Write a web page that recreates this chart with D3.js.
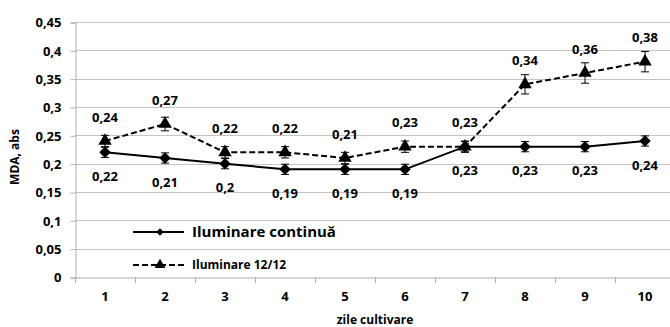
<!DOCTYPE html>
<html>
<head>
<meta charset="utf-8">
<script src="https://cdn.jsdelivr.net/npm/d3@7"></script>
<style>
  body { margin: 0; background: #fff; }
  text { font-family: "Open Sans", sans-serif; font-weight: bold; fill: #000; }
</style>
</head>
<body>
<div id="chart"></div>
<script>
var days = [1, 2, 3, 4, 5, 6, 7, 8, 9, 10];
var continua = [0.22, 0.21, 0.20, 0.19, 0.19, 0.19, 0.23, 0.23, 0.23, 0.24];
var continuaErr = [0.009, 0.009, 0.009, 0.009, 0.009, 0.009, 0.009, 0.009, 0.009, 0.009];
var ciclu = [0.24, 0.27, 0.22, 0.22, 0.21, 0.23, 0.23, 0.34, 0.36, 0.38];
var cicluErr = [0.01, 0.012, 0.01, 0.01, 0.01, 0.01, 0.01, 0.017, 0.018, 0.018];
var yTicks = [0, 0.05, 0.1, 0.15, 0.2, 0.25, 0.3, 0.35, 0.4, 0.45];
var seriesNames = ["Iluminare continuă", "Iluminare 12/12"];

var W = 670, H = 327;
var plotLeft = 75, plotRight = 675, plotTop = 22, plotBottom = 277;

var svg = d3.select("#chart").append("svg")
    .attr("width", W)
    .attr("height", H);

var x = d3.scaleBand().domain(days).range([plotLeft, plotRight]);
var y = d3.scaleLinear().domain([0, 0.45]).range([plotBottom, plotTop]);
var cx = function(d){ return x(d) + x.bandwidth() / 2; };
var fmt = function(v){ return String(+v.toFixed(2)).replace(".", ","); };

//gridlines
svg.append("g").selectAll("line")
    .data(yTicks.slice(1))
    .enter().append("line")
    .attr("x1", plotLeft).attr("x2", W)
    .attr("y1", function(d){ return Math.round(y(d)) + 0.5; })
    .attr("y2", function(d){ return Math.round(y(d)) + 0.5; })
    .attr("stroke", "#c4c4c4")
    .attr("stroke-width", 1);

//y axis
var yAxis = svg.append("g")
    .attr("transform", "translate(" + (plotLeft + 0.5) + ",0.5)")
    .call(d3.axisLeft(y).tickValues(yTicks).tickSize(5).tickPadding(9).tickFormat(fmt));
yAxis.select(".domain").attr("stroke", "#b0b0b0");
yAxis.selectAll(".tick line").attr("stroke", "#b0b0b0");
yAxis.selectAll(".tick text").style("font-size", "13px").attr("fill", "#000");

//x axis
var xAxis = svg.append("g")
    .attr("transform", "translate(0," + (Math.round(plotBottom) + 0.5) + ")")
    .call(d3.axisBottom(x).tickSize(0).tickPadding(14));
xAxis.select(".domain").attr("stroke", "#b0b0b0");
xAxis.selectAll(".tick text").style("font-size", "13px").attr("fill", "#000");
svg.append("g").selectAll("line")
    .data(days.concat([11]))
    .enter().append("line")
    .attr("x1", function(d, i){ return plotLeft + i * x.bandwidth() + 0.5; })
    .attr("x2", function(d, i){ return plotLeft + i * x.bandwidth() + 0.5; })
    .attr("y1", plotBottom).attr("y2", plotBottom + 6)
    .attr("stroke", "#b0b0b0");

//axis titles
svg.append("text")
    .attr("transform", "translate(19,157) rotate(-90)")
    .attr("text-anchor", "middle")
    .style("font-size", "12px")
    .text("MDA, abs");
svg.append("text")
    .attr("x", 375).attr("y", 324)
    .attr("text-anchor", "middle")
    .style("font-size", "12px")
    .text("zile cultivare");

var diamond = d3.symbol().type(d3.symbolDiamond2).size(85);
var triangle = d3.symbol().type(d3.symbolTriangle).size(78);

function drawSeries(vals, errs, dash, sym, labelDy){
    var line = d3.line()
        .x(function(d, i){ return cx(days[i]); })
        .y(function(d){ return y(d); });
    svg.append("path")
        .datum(vals)
        .attr("d", line)
        .attr("fill", "none")
        .attr("stroke", "#000")
        .attr("stroke-width", 2)
        .attr("stroke-dasharray", dash);

    var g = svg.append("g");
    vals.forEach(function(v, i){
        var px = cx(days[i]);
        var y1 = y(v + errs[i]), y2 = y(v - errs[i]);
        g.append("line").attr("x1", px).attr("x2", px).attr("y1", y1).attr("y2", y2)
            .attr("stroke", "#000").attr("stroke-width", 1);
        g.append("line").attr("x1", px - 4).attr("x2", px + 4).attr("y1", y1).attr("y2", y1)
            .attr("stroke", "#000").attr("stroke-width", 1);
        g.append("line").attr("x1", px - 4).attr("x2", px + 4).attr("y1", y2).attr("y2", y2)
            .attr("stroke", "#000").attr("stroke-width", 1);
        g.append("path")
            .attr("d", sym)
            .attr("transform", "translate(" + px + "," + y(v) + ")")
            .attr("fill", "#000");
        g.append("text")
            .attr("x", px).attr("y", y(v) + labelDy)
            .attr("text-anchor", "middle")
            .attr("dy", "0.35em")
            .style("font-size", "13px")
            .text(fmt(v));
    });
}

drawSeries(continua, continuaErr, null, diamond, 24);
drawSeries(ciclu, cicluErr, "6,3", triangle, -24);

//legend
var legend = [
    {name: seriesNames[0], dash: null, sym: d3.symbol().type(d3.symbolDiamond2).size(35), y: 232, size: "15px"},
    {name: seriesNames[1], dash: "6,3", sym: d3.symbol().type(d3.symbolTriangle).size(50), y: 265, size: "12px"}
];
var lg = svg.append("g").selectAll("g").data(legend).enter().append("g");
lg.append("line")
    .attr("x1", 133).attr("x2", 184)
    .attr("y1", function(d){ return d.y; }).attr("y2", function(d){ return d.y; })
    .attr("stroke", "#000").attr("stroke-width", 2)
    .attr("stroke-dasharray", function(d){ return d.dash; });
lg.append("path")
    .attr("d", function(d){ return d.sym(); })
    .attr("transform", function(d){ return "translate(160," + d.y + ")"; })
    .attr("fill", "#000");
lg.append("text")
    .attr("x", 192)
    .attr("y", function(d){ return d.y; })
    .attr("dy", "0.35em")
    .style("font-size", function(d){ return d.size; })
    .text(function(d){ return d.name; });
</script>
</body>
</html>
